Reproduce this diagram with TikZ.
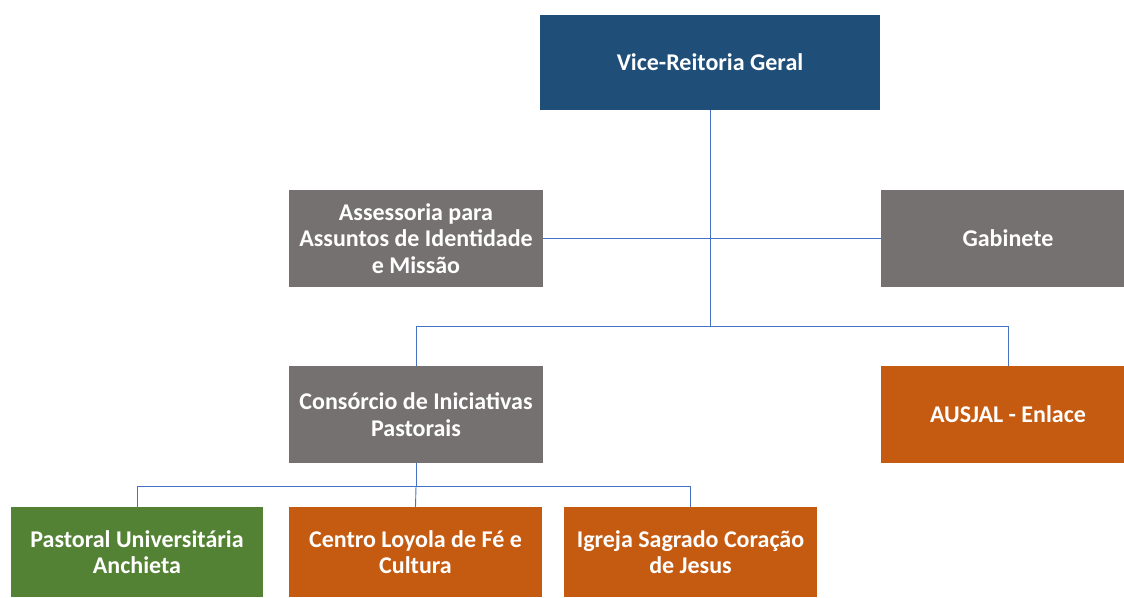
\documentclass[tikz,border=0pt]{standalone}
\usepackage{fontspec}
\setmainfont{Carlito}
\definecolor{vrblue}{HTML}{1F4E79}
\definecolor{boxgray}{HTML}{767171}
\definecolor{boxorange}{HTML}{C55A11}
\definecolor{boxgreen}{HTML}{548235}
\definecolor{linkblue}{HTML}{4472C4}
\tikzset{
  orgbox/.style={rectangle, inner sep=1pt, text=white, align=center,
    font=\fontsize{24}{26.5}\selectfont\bfseries},
  link/.style={draw=linkblue, line width=0.9pt}
}
\begin{document}
\begin{tikzpicture}[x=1pt,y=-1pt]
\useasboundingbox (0,0) rectangle (1124,597);
\node[orgbox, fill=vrblue, minimum width=340pt, minimum height=95pt] (vr) at (710,62.5) {Vice-Reitoria Geral};
\node[orgbox, fill=boxgray, minimum width=254pt, minimum height=97pt] (ass) at (416,238.5) {Assessoria para\\Assuntos de Identidade\\e Missão};
\node[orgbox, fill=boxgray, minimum width=254pt, minimum height=97pt] (gab) at (1008,238.5) {Gabinete};
\node[orgbox, fill=boxgray, minimum width=254pt, minimum height=97pt] (cons) at (416,414.5) {Consórcio de Iniciativas\\Pastorais};
\node[orgbox, fill=boxorange, minimum width=254pt, minimum height=97pt] (aus) at (1008,414.5) {AUSJAL - Enlace};
\node[orgbox, fill=boxgreen, minimum width=252pt, minimum height=90pt] (pas) at (137,552) {Pastoral Universitária\\Anchieta};
\node[orgbox, fill=boxorange, minimum width=253pt, minimum height=90pt] (cen) at (415.5,552) {Centro Loyola de Fé e\\Cultura};
\node[orgbox, fill=boxorange, minimum width=253pt, minimum height=90pt] (igr) at (690.5,552) {Igreja Sagrado Coração\\de Jesus};
\coordinate (bus1) at (vr.south |- 0,326);
\coordinate (bus2) at (cons.south |- 0,486);
\draw[link] (vr.south) -- (bus1);
\draw[link] (ass.east) -- (gab.west);
\draw[link] (bus1) -| (cons.north);
\draw[link] (bus1) -| (aus.north);
\draw[link] (cons.south) -- (bus2);
\draw[link] (bus2) -| (pas.north);
\draw[link] (bus2) -| (igr.north);
\draw[link] (bus2) -- (cen.north);
\end{tikzpicture}
\end{document}
